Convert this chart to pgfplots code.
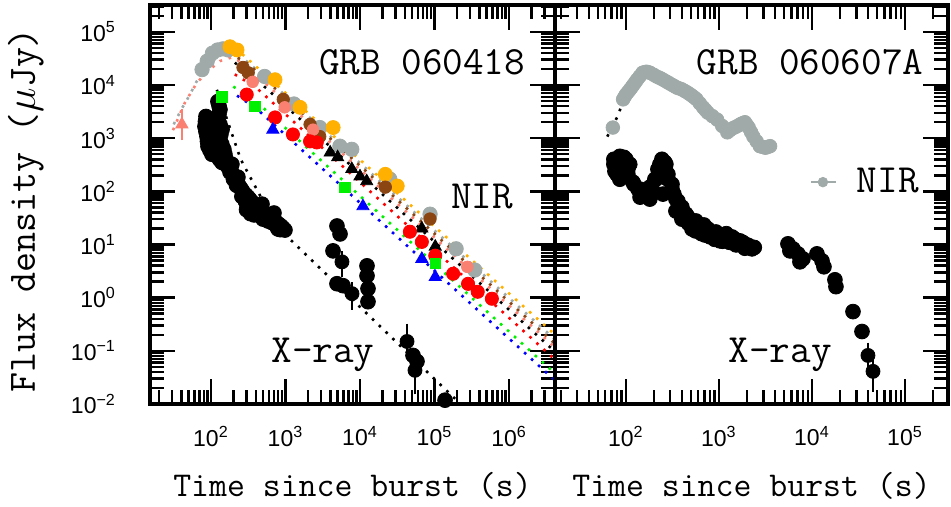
\documentclass[border=0pt]{standalone}
\usepackage{fontspec}
\setsansfont{Liberation Sans}
\usepackage{pgfplots}
\pgfplotsset{compat=1.18}

\definecolor{nirgray}{RGB}{160,170,168}
\definecolor{nirorange}{RGB}{255,176,0}
\definecolor{nirbrown}{RGB}{139,69,19}
\definecolor{nirpink}{RGB}{250,128,114}
\definecolor{nirred}{RGB}{255,0,0}
\definecolor{nirgreen}{RGB}{0,240,0}
\definecolor{nirblue}{RGB}{0,0,255}

\newcommand\lbl{\ttfamily\fontsize{20}{24}\selectfont}

\pgfplotsset{
  every axis/.append style={
    scale only axis,
    anchor=south west, height=199.5pt,
    ymin=0.01, ymax=3.2e5,
    axis line style={line width=1.8pt},
    tick align=inside, xtick pos=both, ytick pos=both,
    major tick length=12.5pt, minor tick length=7pt,
    tick style={black, line width=1.2pt},
    tick label style={font=\sffamily\fontsize{11.5}{13}\selectfont},
    xticklabel style={yshift=-7.5pt},
    yticklabel style={xshift=-13.5pt},
    ytick={0.01,0.1,1,10,100,1000,10000,100000},
    minor ytick={0.02,0.03,0.04,0.05,0.06,0.07,0.08,0.09,0.2,0.3,0.4,0.5,0.6,0.7,0.8,0.9,
      2,3,4,5,6,7,8,9,20,30,40,50,60,70,80,90,200,300,400,500,600,700,800,900,
      2000,3000,4000,5000,6000,7000,8000,9000,20000,30000,40000,50000,60000,70000,80000,90000,200000,300000},
    xlabel={Time since burst (s)},
    xlabel style={font=\ttfamily\fontsize{17.4}{20}\selectfont,
      at={(axis description cs:0.5,-0.233)}, anchor=base},
  },
}
\tikzset{
  grbdot/.style={line width=1.3pt, dash pattern=on 1.3pt off 3.4pt},
}

\begin{document}
\begin{tikzpicture}

% ---------------- GRB 060418 ----------------
\begin{loglogaxis}[at={(0,0)}, width=202.5pt,
  xmin=15.2, xmax=4.14e6,
  xtick={100,1000,10000,100000,1000000},
  xticklabels={10\textsuperscript{2},10\textsuperscript{3},10\textsuperscript{4},10\textsuperscript{5},10\textsuperscript{6}},
  minor xtick={20,30,40,50,60,70,80,90,200,300,400,500,600,700,800,900,
    2000,3000,4000,5000,6000,7000,8000,9000,20000,30000,40000,50000,60000,70000,80000,90000,
    200000,300000,400000,500000,600000,700000,800000,900000,2000000,3000000,4000000},
  yticklabels={10\textsuperscript{−2},10\textsuperscript{−1},10\textsuperscript{0},10\textsuperscript{1},10\textsuperscript{2},10\textsuperscript{3},10\textsuperscript{4},10\textsuperscript{5}},
  ylabel={Flux density ($\mu$Jy)},
  ylabel style={font=\ttfamily\fontsize{19.4}{22}\selectfont,
    at={(axis description cs:-0.284,0.486)}, anchor=base},
]
% X-ray
\addplot[only marks, mark=*, mark size=3.7pt, black] coordinates {
  (124,4887) (128,4112) (132,3459) (128,2789) (124,2249) (132,1813) (141,1462)
  (136,1179) (132,951) (140,766) (149,617) (154,497) (159,401) (167,337)
  (85.7,2559) (84.3,2063) (83.0,1663) (85.6,1341) (88.3,1081) (89.7,871) (91.2,702)
  (96.9,591) (103,498) (110,1892)
  (100,2000) (105,1500) (110,1100) (100,1300) (95,1100) (105,800) (115,600)
  (120,500) (130,400) (140,350) (118,800) (112,1300) (100,900)
  (175,284) (186,245) (197,210) (207,180) (217,155) (231,136) (245,120)
  (260,106) (277,92.5) (230,185) (191,323) (165,300) (180,230) (200,170) (220,130)
  (260,80) (290,65) (295,85) (300,60) (300,45) (314,77.8) (334,70) (355,62.8)
  (378,57.6) (402,52.8) (434,48.5) (469,44.5) (507,40.8) (547,37.4) (592,34.3)
  (638,31.5) (690,28.9) (745,26.5) (805,24.3) (871,22.3) (928,20.4) (984,18.7)
  (333,50.6) (340,38) (380,36) (420,45) (428,37.4) (500,30) (560,30) (582,27.7)
  (650,26) (760,22) (793,19.6) (850,19) (484,57.5) (701,39.1)
  (4909,22.3) (5395,15.8) (4345,7.59) (4909,1.83) (5916,1.68)
  (12420,3.97) (12420,2.58) (12800,1.48) (12800,0.84)
  (51450,0.082) (58210,0.0632) (138400,0.0118)
};
\addplot[only marks, mark=*, mark size=3.5pt, black,
  error bars/.cd, y dir=both, y explicit,
  error bar style={line width=1pt}, error mark options={mark size=4pt, line width=1pt}]
  coordinates {
  (5728,4.72) += (0,0.6) -= (0,1.23)
  (7816,1.19) += (0,0.2) -= (0,0.35)
  (42760,0.150) += (0,0.081) -= (0,0.05)
  (54700,0.0430) += (0,0.01) -= (0,0.0216)
};

% NIR data
\addplot[only marks, mark=triangle*, mark size=3.5pt, nirpink,
  error bars/.cd, y dir=both, y explicit,
  error bar style={line width=1pt}, error mark options={mark size=4pt, line width=1pt}]
  coordinates {(40.7,1820) += (0,635) -= (0,530)};
\addplot[only marks, mark=*, mark size=3.6pt, nirgray] coordinates {
  (75.9,19500) (89.1,28180) (104.7,39810) (123,45710) (144.5,47860) (170,45710)
  (525,14500) (1300,4400) (2884,1585) (5370,708) (7762,617) (25120,170)
  (87100,37.2) (195000,8.3) (346700,3.31)
};
\addplot[only marks, mark=*, mark size=3.5pt, nirorange] coordinates {
  (180,52500) (224,45700) (724,12590) (1567,3802) (4365,1585) (21880,209) (31620,126)
};
\addplot[only marks, mark=*, mark size=3.1pt, nirbrown] coordinates {
  (269,21380) (316,16980) (933,5370) (2138,1820) (2884,1072) (21880,120) (87100,30.2)
};
\addplot[only marks, mark=*, mark size=2.9pt, nirpink] coordinates {
  (363,11480) (977,3802) (2344,1445) (275400,3.80)
};
\addplot[only marks, mark=triangle*, mark size=3.5pt, black] coordinates {
  (3981,537) (5012,437) (7762,263) (10000,191) (12300,155) (67600,20) (102300,9.12)
};
\addplot[only marks, mark=*, mark size=3.3pt, nirred] coordinates {
  (302,6607) (724,2455) (1259,1175) (2138,871) (2630,832) (46770,17.4) (67600,11.2)
  (102300,6.17) (177800,2.82) (281800,1.82) (380200,1.29) (588800,0.955)
};
\addplot[only marks, mark=square*, mark size=2.6pt, nirgreen] coordinates {
  (141,6026) (389,3981) (6310,120) (102300,4.37)
};
\addplot[only marks, mark=triangle*, mark size=3.5pt, nirblue] coordinates {
  (676,1445) (10960,52.5) (67600,5.37) (102300,2.45)
};

% model lines
\addplot[grbdot, black, no marks] coordinates {
  (120,8128) (251,398) (631,35.5) (1148,12.6) (107200,0.0269) (223900,0.01)
};
\addplot[grbdot, nirpink, no marks] coordinates {
  (30.9,1413) (44.7,4677) (64.6,10960) (89.1,17780) (131.8,28180) (190.5,33110)
  (281.8,25120) (501,11750) (4170000,0.1148)
};
\addplot[grbdot, nirgray, no marks] coordinates {
  (31.6,1820) (40.7,3631) (51.3,6310) (63.1,11220) (89.1,22390) (125.9,35480)
  (177.8,41690) (281.8,30200) (501,15140) (4170000,0.162)
};
\addplot[grbdot, nirorange, no marks] coordinates {(263,38020) (4170000,0.1995)};
\addplot[grbdot, nirbrown, no marks] coordinates {(177.8,39810) (316.2,25120) (4170000,0.1349)};
\addplot[grbdot, black, no marks] coordinates {(208.9,26300) (398.1,13180) (4170000,0.0955)};
\addplot[grbdot, nirred, no marks] coordinates {(208.9,15850) (398.1,9120) (4170000,0.0676)};
\addplot[grbdot, nirgreen, no marks] coordinates {(199.5,9333) (398.1,5012) (4170000,0.0372)};
\addplot[grbdot, nirblue, no marks] coordinates {(223.9,6310) (398.1,3715) (4170000,0.0275)};

\node[font=\lbl, anchor=base] at (rel axis cs:0.672,0.825) {GRB 060418};
\node[font=\lbl, anchor=base] at (rel axis cs:0.820,0.491) {NIR};
\node[font=\lbl, anchor=base] at (rel axis cs:0.427,0.105) {X-ray};
\end{loglogaxis}

% ---------------- GRB 060607A ----------------
\begin{loglogaxis}[at={(202.5pt,0)}, width=196.5pt,
  xmin=17.3, xmax=2.9e5,
  xtick={100,1000,10000,100000},
  xticklabels={10\textsuperscript{2},10\textsuperscript{3},10\textsuperscript{4},10\textsuperscript{5}},
  minor xtick={20,30,40,50,60,70,80,90,200,300,400,500,600,700,800,900,
    2000,3000,4000,5000,6000,7000,8000,9000,20000,30000,40000,50000,60000,70000,80000,90000,200000},
  yticklabels={},
]
\addplot[only marks, mark=*, mark size=3.7pt, black] coordinates {
  (74.3,401) (86.1,456) (95.1,437) (76.2,239) (86.1,169) (105,261) (119,149)
  (74.3,323) (80,210) (86.1,401) (90.6,261) (100,401) (105,210) (110,323)
  (122,136) (142,110) (164,88.7) (191,110) (210,169) (221,261) (244,401)
  (269,323) (283,169) (313,136) (328,88.7) (362,65.5) (400,50.6) (464,32.9)
  (566,27.7) (690,23.3)
  (135,110) (156,92.5) (181,120) (205,169) (232,323) (262,352) (283,210)
  (313,110) (345,71.4) (381,50.6) (442,37.4) (525,27.7) (625,23.3) (762,19.6)
  (929,17.2) (1132,15.1) (1380,13.9) (1683,11.7) (2000,9.84) (2265,8.28)
  (513,19.6) (706,15.1) (1026,11.7) (1524,9.84) (345,42.6) (250,88.7) (181,71.4) (142,77.8)
  (400,30) (470,25) (560,18) (650,16) (800,14) (900,12.5) (1100,11.5) (1300,11)
  (1600,10) (1900,8.5) (2100,9.5) (1200,16) (1500,12.5) (1800,11) (2400,8.8) (1000,14)
  (5521,10.3) (6252,8.28) (7063,6.67) (8000,5.37) (7430,4.72) (5794,7.59)
  (11320,6.67) (12820,4.93) (13460,3.81) (17660,2.17) (18110,1.61)
  (27610,0.547) (34510,0.231)
};
\addplot[only marks, mark=*, mark size=3.5pt, black,
  error bars/.cd, y dir=both, y explicit,
  error bar style={line width=1pt}, error mark options={mark size=4pt, line width=1pt}]
  coordinates {
  (40000,0.082) += (0,0.019) -= (0,0.019)
  (45290,0.0411) += (0,0.017) -= (0,0.017)
};
\addplot[only marks, mark=*, mark size=3.4pt, nirgray] coordinates {
  (72.4,1585) (93.3,5370) (96.6,5956) (100,6607) (105,7328) (110,8128) (115,9000)
  (120,10000) (126,11220) (132,12590) (141,14620) (151,16980) (158,17380)
  (166,17780) (174,17380) (182,16980) (198,15660) (214,14450) (227,13800)
  (240,13180) (257,12300) (275,11480) (295,10720) (316,10000) (335,9440)
  (355,8913) (376,8610) (398,8318) (427,7760) (457,7244) (484,6760) (513,6310)
  (544,5820) (575,5370) (623,4520) (676,3802) (716,3390) (759,3020) (851,2600)
  (955,2239) (1084,1698) (1230,1288) (1303,1396) (1380,1514) (1462,1585)
  (1549,1660) (1641,1758) (1738,1862) (1820,1927) (1905,1995) (1995,1778)
  (2089,1585) (2213,1303) (2344,1072) (2541,871) (2754,708) (2951,684)
  (3162,661) (3350,685) (3548,708)
};
\addplot[only marks, mark=*, mark size=2.4pt, nirgray,
  error bars/.cd, x dir=both, x explicit,
  error bar style={line width=1pt}, error mark options={mark size=2.5pt, line width=1pt}]
  coordinates {(13120,149) += (3000,0) -= (2000,0)};
\addplot[grbdot, black, no marks] coordinates {
  (63.1,1072) (81.3,2570) (93.3,4898) (110,7244) (132,10960) (174,16980)
  (214,15490) (295,12590) (407,8913) (575,4898)
};

\node[font=\lbl, anchor=base] at (rel axis cs:0.649,0.825) {GRB 060607A};
\node[font=\lbl, anchor=base] at (rel axis cs:0.847,0.531) {NIR};
\node[font=\lbl, anchor=base] at (rel axis cs:0.573,0.105) {X-ray};
\end{loglogaxis}

\pgfresetboundingbox
\path[use as bounding box] (-75pt,-51.5pt) rectangle (400.5pt,202pt);
\end{tikzpicture}
\end{document}
